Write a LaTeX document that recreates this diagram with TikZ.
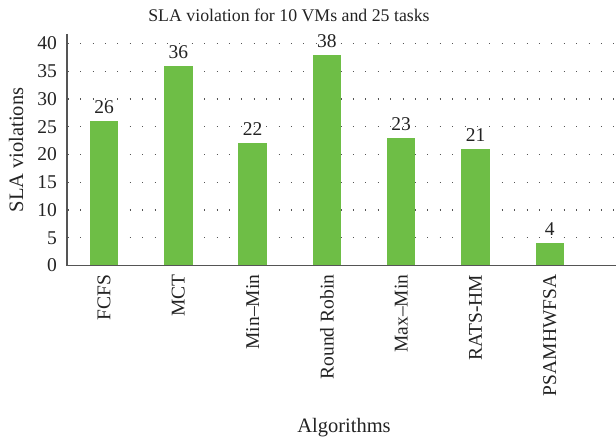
\documentclass[tikz,border=0pt]{standalone}
\usepackage{fontspec}
\setmainfont{Liberation Serif}
\definecolor{bargreen}{RGB}{110,190,70}
\definecolor{axisgray}{RGB}{85,85,85}
\definecolor{textgray}{RGB}{35,35,35}
\begin{document}
\begin{tikzpicture}[x=1pt,y=-1pt,
  axisline/.style={draw=axisgray,line width=1.4pt},
  gridline/.style={draw=axisgray,line width=1.1pt,dash pattern=on 1.1pt off 11.3pt},
  bar/.style={fill=bargreen,draw=none},
  ticklabel/.style={anchor=east,inner sep=0pt,text=textgray,font=\fontsize{19.5}{19.5}\selectfont},
  vallabel/.style={anchor=base,inner sep=0pt,text=textgray,font=\fontsize{19.5}{19.5}\selectfont},
  catlabel/.style={anchor=east,rotate=90,inner sep=0pt,text=textgray,font=\fontsize{19.5}{19.5}\selectfont},
  axislabel/.style={inner sep=0pt,text=textgray,font=\fontsize{20.5}{20.5}\selectfont},
  titlelabel/.style={inner sep=0pt,text=textgray,font=\fontsize{17.8}{17.8}\selectfont}]
\useasboundingbox (0,0) rectangle (616,444);
% plot geometry: zero line at 265.5, 5.55 units per count
\def\yzero{265.5}
\def\yscale{5.55}
% dotted gridlines and tick labels
\foreach \v in {5,10,...,40}{
  \draw[gridline] (67.7,\yzero-\v*\yscale) -- (614,\yzero-\v*\yscale);
}
\foreach \v in {0,5,...,40}{
  \node[ticklabel] (tick\v) at (57,\yzero-\v*\yscale) {\v};
}
% bars with value labels and category names
\foreach \i/\val/\name in {0/26/FCFS,1/36/MCT,2/22/Min--Min,3/38/Round Robin,4/23/Max--Min,5/21/RATS-HM,6/4/PSAMHWFSA}{
  \pgfmathsetmacro{\cx}{104+74.3*\i}
  \fill[bar] (\cx-14.2,\yzero) rectangle (\cx+14.2,\yzero-\val*\yscale);
  \node[vallabel] (val\i) at (\cx,\yzero-\val*\yscale-7.5) {\val};
  \node[catlabel] (cat\i) at (\cx,274.5) {\name};
}
% axes
\draw[axisline] (67,34) -- (67,\yzero) -- (616,\yzero);
% titles
\node[titlelabel] (title) at (289,15) {SLA violation for 10 VMs and 25 tasks};
\node[axislabel,rotate=90] (ylab) at (16,150) {SLA violations};
\node[axislabel] (xlab) at (344,428) {Algorithms};
\end{tikzpicture}
\end{document}
